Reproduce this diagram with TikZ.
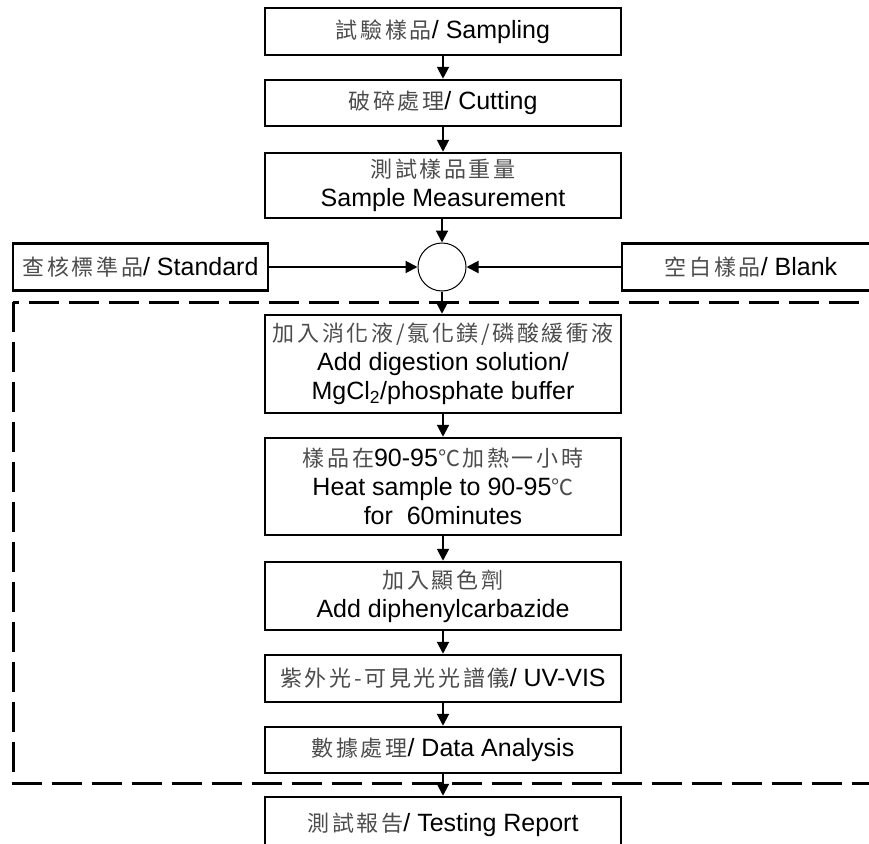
\documentclass[tikz,border=0pt]{standalone}
\usepackage{fontspec}
\setmainfont{Liberation Sans}
\newfontfamily\cjk[LetterSpace=12]{Noto Sans CJK TC}
\newcommand{\zh}[1]{{\cjk\fontsize{22}{29}\selectfont\color{black!70}#1}}
\usetikzlibrary{arrows.meta}

\begin{document}
\begin{tikzpicture}[
  x=1pt, y=-1pt,
  every node/.style={font=\fontsize{25}{29}\selectfont, align=center, inner sep=0pt},
  >={Triangle[width=12pt,length=12pt]}
]
\tikzset{
  stage/.style={draw, line width=2.5pt, minimum width=356pt},
  flow/.style={->, line width=2pt},
  mixer/.style={draw, circle, line width=1pt, minimum size=48pt}
}
\useasboundingbox (0,0) rectangle (869,843);
\clip (0,0) rectangle (869,843);

% main column
\node[stage, minimum height=47pt] (samp) at (443,31.5) {\zh{試驗樣品}/ Sampling};
\node[stage, minimum height=46pt] (cut) at (443,103) {\zh{破碎處理}/ Cutting};
\node[stage, minimum height=65pt] (meas) at (443,185.5) {\zh{測試樣品重量}\\Sample Measurement};
\node[mixer] (mix) at (442,267) {};
\node[stage, minimum width=255pt, minimum height=47pt] (std) at (140.5,267) {\zh{查核標準品}/ Standard};
\node[stage, minimum width=258pt, minimum height=47pt] (blank) at (751,267) {\zh{空白樣品}/ Blank};

% analysis part
\draw[line width=3pt, dash pattern=on 30pt off 10pt] (13,302) rectangle (895,783);
\node[stage, minimum height=98pt] (add) at (443,364) {\zh{加入消化液/氯化鎂/磷酸緩衝液}\\Add digestion solution/\\MgCl\textsubscript{2}/phosphate buffer};
\node[stage, minimum height=97pt] (heat) at (443,486.5) {\zh{樣品在}90-95\zh{℃加熱一小時}\\Heat sample to 90-95\zh{℃}\\for\ \ 60minutes};
\node[stage, minimum height=68pt] (diph) at (443,596) {\zh{加入顯色劑}\\Add diphenylcarbazide};
\node[stage, minimum height=47pt] (uv) at (443,678.5) {\zh{紫外光-可見光光譜儀}/ UV-VIS};
\node[stage, minimum height=46pt] (data) at (443,750) {\zh{數據處理}/ Data Analysis};
\node[stage, minimum height=56pt] (rep) at (443,825) {\zh{測試報告}/ Testing Report};

% connectors
\draw[flow] (samp) -- (cut);
\draw[flow] (cut) -- (meas);
\draw[flow] (meas.south -| mix) -- (mix);
\draw[flow] (std) -- (mix);
\draw[flow] (blank) -- (mix);
\draw[flow] (mix) -- (add.north -| mix);
\draw[flow] (add) -- (heat);
\draw[flow] (heat) -- (diph);
\draw[flow] (diph) -- (uv);
\draw[flow] (uv) -- (data);
\draw[flow] (data) -- (rep);
\end{tikzpicture}
\end{document}
